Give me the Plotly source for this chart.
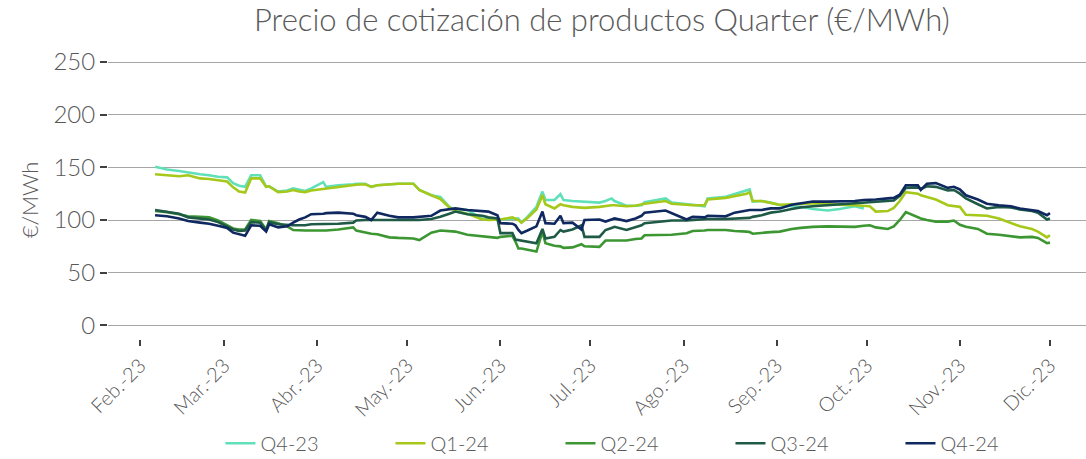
import plotly.graph_objects as go

dates = ["2023-02-06","2023-02-10","2023-02-14","2023-02-17","2023-02-21","2023-02-24","2023-02-27",
 "2023-03-02","2023-03-04","2023-03-06","2023-03-08","2023-03-10","2023-03-13","2023-03-15","2023-03-16",
 "2023-03-19","2023-03-22","2023-03-24","2023-03-26","2023-03-28","2023-03-30",
 "2023-04-03","2023-04-04","2023-04-08","2023-04-13","2023-04-14","2023-04-17","2023-04-19","2023-04-21",
 "2023-04-25","2023-04-28",
 "2023-05-03","2023-05-05","2023-05-09","2023-05-12","2023-05-15","2023-05-17","2023-05-21","2023-05-26",
 "2023-05-28","2023-05-31",
 "2023-06-01","2023-06-05","2023-06-06","2023-06-07","2023-06-08","2023-06-10","2023-06-13","2023-06-15",
 "2023-06-16","2023-06-19","2023-06-21","2023-06-22","2023-06-25","2023-06-28","2023-06-29",
 "2023-07-04","2023-07-06","2023-07-08","2023-07-09","2023-07-13","2023-07-16","2023-07-18","2023-07-19",
 "2023-07-26","2023-07-28",
 "2023-08-02","2023-08-04","2023-08-08","2023-08-09","2023-08-15","2023-08-18","2023-08-22","2023-08-23",
 "2023-08-24","2023-08-27","2023-08-30",
 "2023-09-02","2023-09-06","2023-09-09","2023-09-13","2023-09-18","2023-09-22","2023-09-27","2023-09-30",
 "2023-10-02","2023-10-04","2023-10-08","2023-10-10","2023-10-12","2023-10-14","2023-10-18","2023-10-19",
 "2023-10-21","2023-10-24","2023-10-28","2023-10-30",
 "2023-11-01","2023-11-03","2023-11-07","2023-11-10","2023-11-14","2023-11-18","2023-11-21","2023-11-25",
 "2023-11-27","2023-11-30","2023-12-01"]

q4_23 = [150.5,148,146.5,145,143.5,142.5,141,
 140.5,135,132.5,131.5,142.5,142.5,131.5,132,
 127,128,130,128.5,127.5,130,
 136,131.5,133,134,134.5,134.5,131.5,133,
 134,134.5,
 134.5,128.5,123.5,122,112.5,109.5,109.5,101,
 100.5,100.5,
 100.5,101,101.5,101.5,97.5,103,112.5,127,
 119,119,124.5,119,118,117.5,117,
 116.5,118,120.5,118,113.5,113.5,114,117,
 120.5,116.5,
 115.5,114.5,113,120.5,122,124.5,128.5,129,
 117.5,118,116.5,
 114,113,112.5,110.5,109,110.5,113,111,
 None,None,None,None,None,None,None,None,
 None,None,None,None,
 None,None,None,None,None,None,None,None,
 None,None,None]

q1_24 = [143.5,142.5,141.5,142.5,139.5,139,137.5,
 136.5,131,127,126,139.5,139.5,131.5,132,
 126.5,127,128.5,127,126.5,128,
 129.5,130,131.5,133,133.5,134,131.5,133,
 134,134.5,
 134.5,128.5,123.5,120,112,108.5,106,100.5,
 100,100.5,
 100.5,102.5,101.5,100,97.5,102,110,123.5,
 115,111,115,114,112.5,111.5,111.5,
 112.5,113.5,114,114,113,113.5,115,115.5,
 118,115.5,
 114.5,114,114,119.5,121,122.5,125,126.5,
 118,118,116,
 114.5,115,115.5,116,115.5,114.5,114,113.5,
 113,108,108.5,111.5,118,126.5,125,123.5,
 122,119.5,114,113,
 112.5,105,104.5,104,101.5,97,94,91.5,
 89,83.5,85.5]

q2_24 = [108.5,107.5,105.5,103.5,103,102.5,99.5,
 95,92,91,91,100,99,91,99,
 97,94,90.5,90,90,90,
 90,90,91,93,90,88,87,86.5,
 83.5,83,
 82.5,81,88,90,89.5,89,86,84.5,
 84,83,
 84,85,79.5,73,73,72,70,89,
 78,75.5,75,73.5,74,77,75,
 74.5,80.5,80.5,80.5,80.5,82,82.5,85.5,
 86,86,
 87.5,89.5,90,90.5,90.5,89.5,89,88.5,
 87,88,88.5,
 89,91.5,92.5,93.5,94,93.5,93.5,94.5,
 95,93,91.5,94,100,107.5,102.5,101.5,
 100,98.5,98.5,99.5,
 95.5,93.5,91.5,87,86,84.5,83.5,84,
 83,78,78.5]

q3_24 = [109.5,108,106,102.5,101.5,100.5,98,
 94,91,89.5,90,98,97.5,90,98,
 96,95,95,95,95,96,
 96,96,96.5,97.5,99.5,100,100,100,
 100,100,
 100,100,101,103,106,108,105.5,104,
 102.5,101.5,
 87.5,87.5,81.5,81,80.5,79.5,78,91.5,
 82.5,84,90.5,89,91,95,84,
 84,90.5,92.5,93.5,90.5,93.5,95,97,
 99.5,99.5,
 99.5,100,100.5,101,101,101.5,102,102,
 103,104.5,107,
 108,110.5,112,113,114,114.5,115.5,116,
 116.5,117,118,118.5,123,130.5,131,129.5,
 132,131.5,128,128.5,
 125,120.5,115,111,112.5,112,110,108.5,
 107,100.5,101.5]

q4_24 = [104.5,103.5,101.5,99,97.5,96.5,94.5,
 92.5,88,86.5,85,95,94.5,89,96,
 93,94,97.5,100.5,102.5,105.5,
 106,106.5,107,106,104.5,103,100,107,
 104,102.5,
 102.5,103,104,109,110.5,111,109.5,108.5,
 108,104.5,
 97,96.5,95,90.5,87.5,90,94,108,
 97,96.5,104,97,97.5,91,100,
 100.5,98.5,100.5,101.5,99,101.5,104,107,
 109,106.5,
 100.5,103,102.5,104,103.5,107,109.5,109.5,
 109.5,109.5,111,
 111,114.5,116,117.5,117.5,117.5,118,119,
 119,119.5,120.5,121,124,133,133,128.5,
 134.5,135,130.5,131.5,
 129,123.5,119.5,115.5,114,113,111,109.5,
 108.5,104.5,106.5]

series_names = ["Q4-23", "Q1-24", "Q2-24", "Q3-24", "Q4-24"]
series_values = [q4_23, q1_24, q2_24, q3_24, q4_24]
series_colors = ["#60E0B8", "#A5C81A", "#3C9632", "#1E5A46", "#0F285F"]

tick_dates = ["2023-02-01","2023-03-01","2023-04-01","2023-05-01","2023-06-01","2023-07-01",
              "2023-08-01","2023-09-01","2023-10-01","2023-11-01","2023-12-01"]
tick_labels = ["Feb.-23","Mar.-23","Abr.-23","May.-23","Jun.-23","Jul.-23",
               "Ago.-23","Sep.-23","Oct.-23","Nov.-23","Dic.-23"]
y_ticks = [0, 50, 100, 150, 200, 250]

FONT = "Lato"
TXT = "#595959"

fig = go.Figure()
for name, vals, col in zip(series_names, series_values, series_colors):
    fig.add_trace(go.Scatter(x=dates, y=vals, mode="lines", name=name,
                             line=dict(color=col, width=2.6)))

fig.update_layout(
    width=1086, height=459,
    margin=dict(l=108, r=0, t=61, b=120, autoexpand=False),
    paper_bgcolor="white", plot_bgcolor="white",
    font=dict(family=FONT, color=TXT, weight=300),
    title=dict(text="Precio de cotización de productos Quarter (€/MWh)",
               x=0.505, xref="paper", xanchor="center",
               y=0.956, yref="container", yanchor="middle",
               font=dict(family=FONT, size=31, color=TXT, weight=300)),
    showlegend=True,
    legend=dict(orientation="h", x=0.115, xanchor="left", y=-0.305, yanchor="top",
                font=dict(family=FONT, size=20, color=TXT, weight=300),
                entrywidth=125, entrywidthmode="pixels"),
    xaxis=dict(type="date", range=["2023-01-21 08:00", "2023-12-13"], automargin=False,
               tickmode="array", tickvals=tick_dates, ticktext=tick_labels,
               tickangle=-45, ticks="outside", ticklen=6, tickwidth=2, tickcolor="#404040",
               showgrid=False, zeroline=False, showline=False,
               tickfont=dict(family=FONT, size=20, color=TXT, weight=300)),
    yaxis=dict(range=[-13, 251], tickmode="array", tickvals=y_ticks, automargin=False,
               ticks="outside", ticklen=7, tickwidth=2, tickcolor="#404040",
               showgrid=True, gridcolor="#a6a6a6", gridwidth=1,
               zeroline=False, showline=False,
               tickfont=dict(family=FONT, size=24, color=TXT, weight=300),
               title=dict(text="€/MWh", font=dict(family=FONT, size=22, color=TXT, weight=300),
                          standoff=8)),
)

fig.write_html("out.html", config={"displayModeBar": False},
               post_script="document.body.style.margin='0';document.body.style.overflow='hidden';")
